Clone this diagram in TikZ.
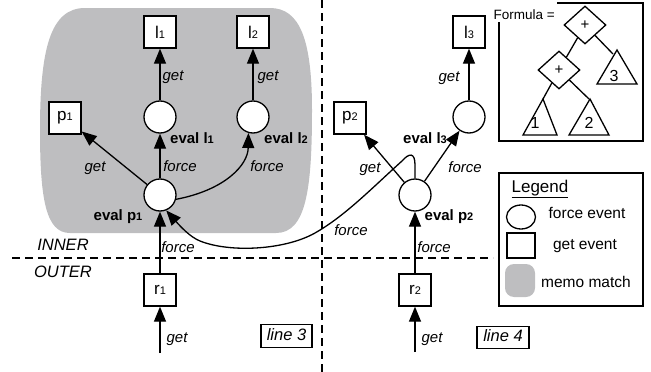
\documentclass[tikz,border=0pt]{standalone}
\usepackage{fontspec}
\setmainfont{Liberation Sans}
\usetikzlibrary{arrows.meta,shapes.geometric}
\newcommand{\subn}[1]{{\fontsize{11}{11}\selectfont #1}}
\definecolor{memo}{RGB}{190,190,192}
\begin{document}
\begin{tikzpicture}[x=1pt,y=-1pt, line width=1.3pt,
 arr/.style={-{Triangle[length=15pt,width=12pt]}, line width=1.3pt},
 evbox/.style={draw, fill=white, minimum width=32pt, minimum height=32pt, inner sep=0pt, font=\fontsize{17}{17}\selectfont},
 evcirc/.style={draw, fill=white, circle, minimum size=32pt, inner sep=0pt},
 lbl/.style={inner sep=0pt, text height=11pt, text depth=3pt, font=\fontsize{15}{15}\selectfont\itshape},
 evl/.style={inner sep=0pt, text height=11pt, text depth=3pt, font=\fontsize{15}{15}\selectfont\bfseries},
 big/.style={inner sep=0pt, text height=12pt, text depth=3.5pt, font=\fontsize{16.5}{16.5}\selectfont\itshape},
 leg/.style={inner sep=0pt, text height=11.5pt, text depth=3pt, font=\fontsize{15.5}{15.5}\selectfont},
 dsh/.style={dash pattern=on 8pt off 5pt, line width=1.3pt},
 dia/.style={draw, diamond, fill=white, minimum width=42pt, minimum height=38pt, inner sep=0pt, font=\fontsize{15}{15}\selectfont},
 num/.style={inner sep=0pt, font=\fontsize{16}{16}\selectfont}
]
\useasboundingbox (0,0) rectangle (651,372);

% memo region
\fill[memo] (85,8) -- (270,8) .. controls (300,8) and (312,40) .. (312,110)
  .. controls (312,190) and (306,233) .. (276,233) -- (70,233)
  .. controls (46,233) and (40,200) .. (40,130) .. controls (40,50) and (50,8) .. (85,8) -- cycle;

% dashed separators
\draw[dsh] (322,0) -- (322,372);
\draw[dsh] (12,258) -- (493,258);

% boxes
\node[evbox] (l1) at (160,32) {l\subn{1}};
\node[evbox] (l2) at (253,32) {l\subn{2}};
\node[evbox] (l3) at (469,32) {l\subn{3}};
\node[evbox] (p1) at (65,118) {p\subn{1}};
\node[evbox] (p2) at (350,118) {p\subn{2}};
\node[evbox] (r1) at (160,290) {r\subn{1}};
\node[evbox] (r2) at (415,290) {r\subn{2}};
% circles
\node[evcirc] (el1) at (160,117) {};
\node[evcirc] (el2) at (253,117) {};
\node[evcirc] (el3) at (469,117) {};
\node[evcirc] (ep1) at (160,195) {};
\node[evcirc] (ep2) at (415,195) {};
\coordinate (b1) at (160,353);
\coordinate (b2) at (415,352);

% arrows
\draw[arr] (el1) -- (l1);
\draw[arr] (el2) -- (l2);
\draw[arr] (el3) -- (l3);
\draw[arr] (ep1) -- (p1);
\draw[arr] (ep1) -- (el1);
\draw[arr] (ep1.-15) .. controls (225,190) and (248,165) .. (el2.-106);
\draw[arr] (ep2) -- (p2);
\draw[arr] (ep2) -- (el3);
\draw[arr] (r1) -- (ep1);
\draw[arr] (r2) -- (ep2);
\draw[arr] (b1) -- (r1);
\draw[arr] (b2) -- (r2);
\draw[arr] (ep2.north) -- (415,165) .. controls (415,152) and (409,153) .. (402,161)
  .. controls (372,188) and (345,216) .. (315,233)
  .. controls (285,250) and (230,253) .. (200,241)
  .. controls (190,237) and (180,226) .. (ep1.-68);

% labels
\node[lbl, anchor=west] (g1) at (162,76) {get};
\node[lbl, anchor=west] (g2) at (257,76) {get};
\node[lbl] (g3) at (449,77) {get};
\node[evl] (e1) at (192,139) {eval l\subn{1}};
\node[evl] (e2) at (286,139) {eval l\subn{2}};
\node[evl] (e3) at (425,139) {eval l\subn{3}};
\node[lbl] (gp1) at (95,167) {get};
\node[lbl] (f1) at (180,167) {force};
\node[lbl] (f2) at (267,167) {force};
\node[evl] (e4) at (118,216) {eval p\subn{1}};
\node[evl] (e5) at (449,216) {eval p\subn{2}};
\node[lbl] (gp2) at (370,168) {get};
\node[lbl] (f3) at (465,168) {force};
\node[lbl] (fc) at (351,231) {force};
\node[lbl] (fr1) at (178,248) {force};
\node[lbl] (fr2) at (434,248) {force};
\node[lbl] (gr1) at (177,338) {get};
\node[lbl] (gr2) at (432,338) {get};
\node[big] (inner) at (63,246) {INNER};
\node[big] (outer) at (63,273) {OUTER};
\node[big, draw, minimum width=51pt, minimum height=23pt] (ln3) at (286.5,336) {line 3};
\node[big, draw, minimum width=52pt, minimum height=22pt] (ln4) at (503,337.5) {line 4};

% formula
\draw (557,3) -- (643,3) -- (643,141) -- (499,141) -- (499,22);
\node[inner sep=0pt, anchor=west, font=\fontsize{13.5}{13.5}\selectfont] (fl) at (493,15) {Formula =};
\node[dia] (d1) at (585,25) {+};
\node[dia] (d2) at (559,70) {+};
\draw (543,99) -- (557,135) -- (523,135) -- cycle;
\draw (590,99) -- (609,135) -- (569,135) -- cycle;
\draw (617,50) -- (637,84) -- (597,84) -- cycle;
\coordinate (t1) at (543,99);
\coordinate (t2) at (589,99);
\coordinate (t3) at (613,54);
\draw (d1) -- (d2);
\draw (d1) -- (t3);
\draw (d2) -- (t1);
\draw (d2) -- (t2);
\node[num] (n1) at (535,123) {1};
\node[num] (n2) at (589,123) {2};
\node[num] (n3) at (614,76) {3};

% legend
\draw (499,173) rectangle (643,306);
\node[inner sep=0pt, font=\fontsize{17}{17}\selectfont] (lg) at (540,189) {\underline{Legend}};
\node[draw, ellipse, minimum width=29pt, minimum height=24pt, inner sep=0pt] (lc) at (521,217) {};
\node[draw, minimum width=28pt, minimum height=25pt, inner sep=0pt] (ls) at (521,245.5) {};
\node[fill=memo, rounded corners=9pt, minimum width=30pt, minimum height=33pt, inner sep=0pt] (lm) at (520,280.5) {};
\node[leg] (t1l) at (587,214) {force event};
\node[leg] (t2l) at (585,245) {get event};
\node[leg] (t3l) at (586,283) {memo match};
\end{tikzpicture}
\end{document}
